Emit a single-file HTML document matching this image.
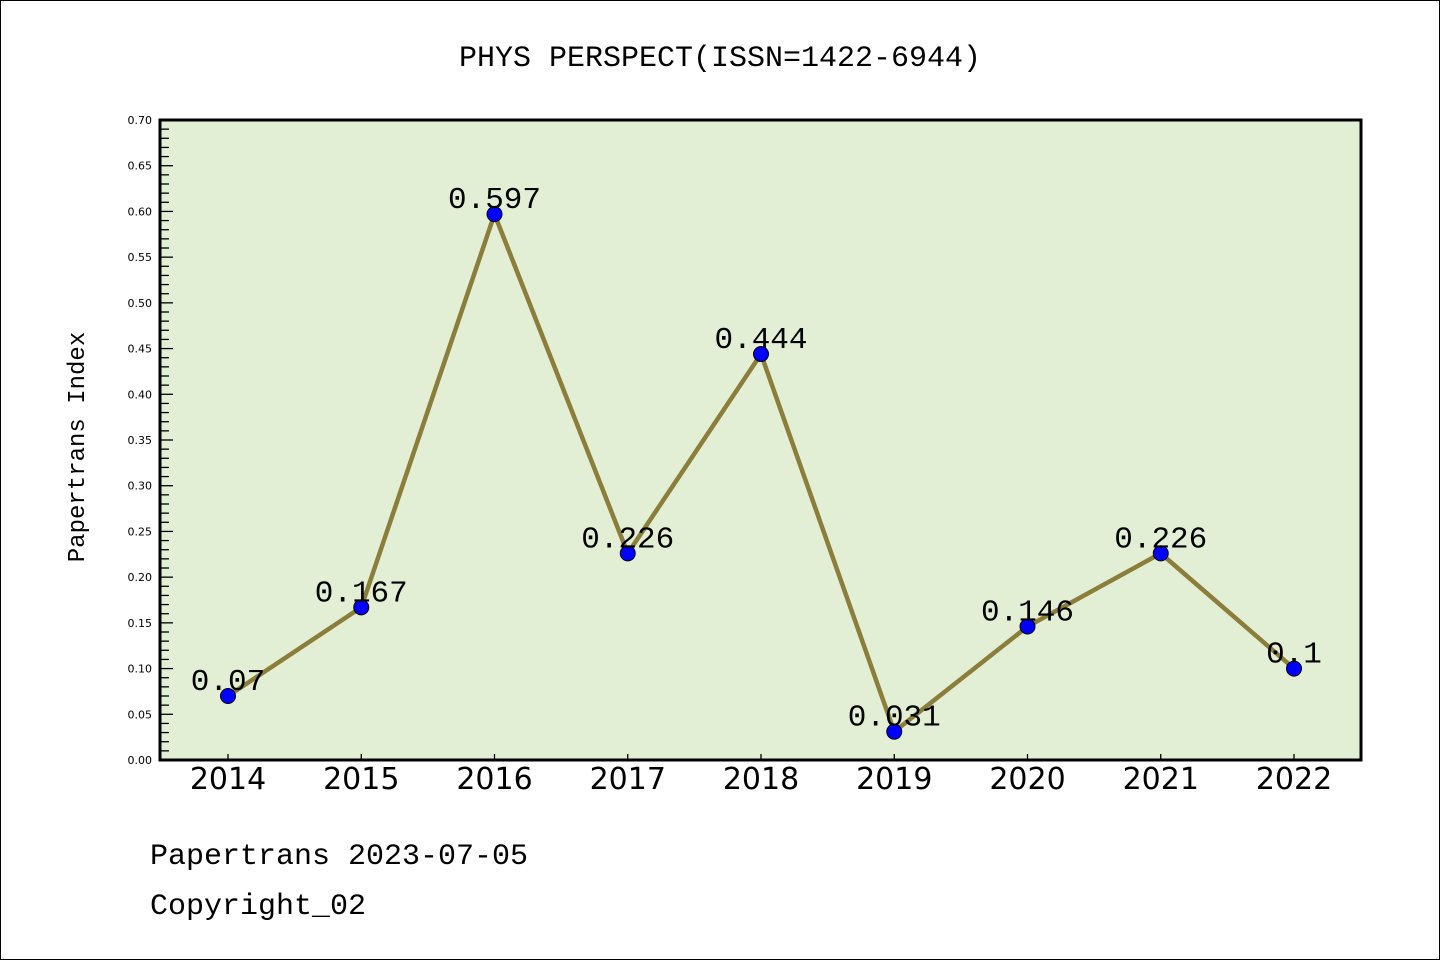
<!DOCTYPE html>
<html><head><meta charset="utf-8"><style>
body{margin:0;background:#fff;}
svg{display:block;font-family:"Liberation Mono","Noto Sans CJK SC",monospace;}
</style></head><body>
<svg width="1440" height="960">
<rect x="0.5" y="0.5" width="1439" height="959" fill="#fff" stroke="#000"/>
<text x="720" y="66" font-size="30" text-anchor="middle">PHYS PERSPECT(ISSN=1422-6944)</text>
<rect x="160" y="120" width="1201" height="640" fill="#e2efd5"/>
<g id="g"></g>
<rect x="160" y="120" width="1201" height="640" fill="none" stroke="#000" stroke-width="3"/>
<text transform="translate(84,447) rotate(-90)" font-size="24" text-anchor="middle">Papertrans Index</text>
<text x="150" y="864" font-size="30">Papertrans 2023-07-05</text>
<text x="150" y="914" font-size="30">Copyright_02</text>
</svg>
<script>
const years=["2014","2015","2016","2017","2018","2019","2020","2021","2022"];
const values=[0.07,0.167,0.597,0.226,0.444,0.031,0.146,0.226,0.1];
const valueLabels=["0.07","0.167","0.597","0.226","0.444","0.031","0.146","0.226","0.1"];
const yTicks=["0.00","0.05","0.10","0.15","0.20","0.25","0.30","0.35","0.40","0.45","0.50","0.55","0.60","0.65","0.70"];
const NS="http://www.w3.org/2000/svg";
const g=document.getElementById('g');
const X=i=>228+i*(1294-228)/(years.length-1);
const Y=v=>760-v/0.7*640;
function mk(t,a,p){const e=document.createElementNS(NS,t);for(const k in a)e.setAttribute(k,a[k]);(p||g).appendChild(e);return e;}
for(let k=0;k<=70;k++){const y=Y(k/100);const major=k%5===0;
 const l=mk('line',{x1:160,x2:160+(major?13:9),y1:y,y2:y,stroke:'#000','stroke-width':1.3});
 
 }
yTicks.forEach(t=>{const tx=mk('text',{x:152,y:Y(parseFloat(t))+4,'font-size':11,'text-anchor':'end','font-family':'DejaVu Sans, sans-serif'});tx.textContent=t;
 
 });
years.forEach((yr,i)=>{const l=mk('line',{x1:X(i),x2:X(i),y1:760,y2:754,stroke:'#000','stroke-width':1.3});
 
 
 const t=mk('text',{x:X(i),y:789,'font-size':30,'text-anchor':'middle','font-family':'DejaVu Sans, sans-serif'});t.textContent=yr;
 
 });
const pl=mk('polyline',{points:values.map((v,i)=>X(i)+','+Y(v)).join(' '),fill:'none',stroke:'#8b7d3a','stroke-width':4.5,'stroke-linejoin':'miter'});


values.forEach((v,i)=>{const c=mk('circle',{cx:X(i),cy:Y(v),r:7.5,fill:'#0000ff',stroke:'#000','stroke-width':1});
 
 
 const t=mk('text',{x:X(i),y:Y(v)-6,'font-size':31,'text-anchor':'middle'});t.textContent=valueLabels[i];
 
 });
</script>
</body></html>
